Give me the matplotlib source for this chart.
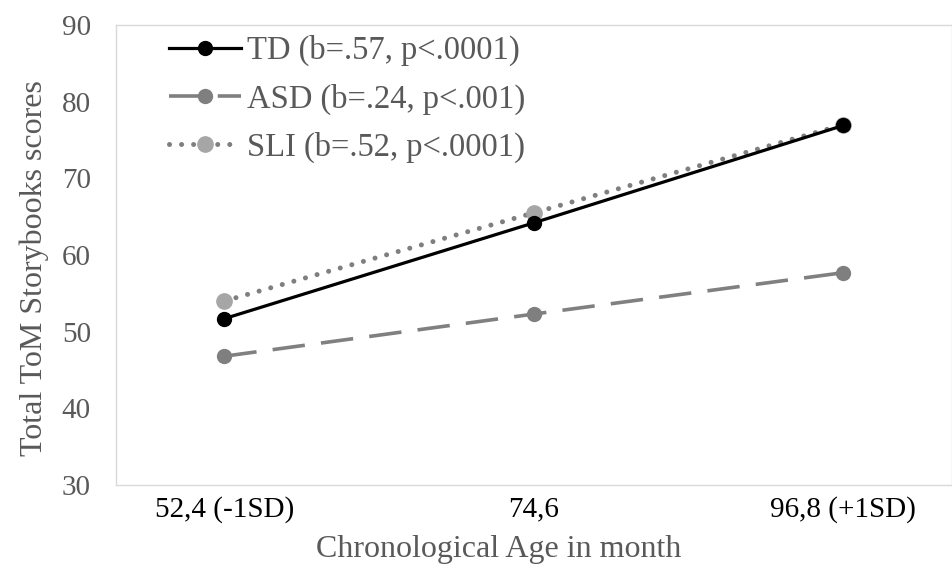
import matplotlib.pyplot as plt
import numpy as np

# category labels on the x axis (age in month)
ageLabels = ['52,4 (-1SD)', '74,6', '96,8 (+1SD)']

# total ToM storybooks scores per group
tdScores = [51.7, 64.2, 76.9]
asdScores = [46.8, 52.3, 57.7]
sliScores = [54.0, 65.5, 77.0]

seriesNames = ['TD (b=.57, p<.0001)', 'ASD (b=.24, p<.001)', 'SLI (b=.52, p<.0001)']

plt.rcParams['font.family'] = ['Liberation Serif', 'DejaVu Serif']

fig = plt.figure(figsize=(9.53, 5.64), dpi=100)
ax = fig.add_axes([0.1217, 0.140, 0.877, 0.8157])

x = np.arange(len(ageLabels))

ax.plot(x, tdScores, color='black', lw=2.3, marker='o', markersize=10,
        label=seriesNames[0], zorder=3)
ax.plot(x, asdScores, color='#808080', lw=2.6, marker='o', markersize=10,
        markerfacecolor='#7f7f7f', markeredgecolor='#7f7f7f',
        dashes=(9, 4.5), label=seriesNames[1], zorder=2)
ax.plot(x, sliScores, color='#7f7f7f', lw=3.6, marker='o', markersize=11,
        markerfacecolor='#a6a6a6', markeredgecolor='#a6a6a6',
        dashes=(0.01, 2.4), dash_capstyle='round', label=seriesNames[2], zorder=2)

ax.set_xlim(-0.35, 2.35)
ax.set_ylim(30, 90)
ax.set_yticks(range(30, 91, 10))
ax.set_xticks(x)
ax.set_xticklabels(ageLabels)
ax.tick_params(axis='both', length=0, labelsize=21)
ax.tick_params(axis='y', colors='#595959', pad=18)
ax.tick_params(axis='x', colors='black', pad=8)

for s in ax.spines.values():
    s.set_color('#d9d9d9')
    s.set_linewidth(1)

ax.set_xlabel('Chronological Age in month', fontsize=23, color='#595959')
ax.set_ylabel('Total ToM Storybooks scores', fontsize=23, color='#595959')
ax.xaxis.set_label_coords(0.458, -0.108)
ax.yaxis.set_label_coords(-0.08, 0.472)

leg = ax.legend(loc='upper left', bbox_to_anchor=(0.0634, 0.978), frameon=False,
                fontsize=23.5, handlelength=2.2, handletextpad=0.2, labelspacing=0.52,
                borderpad=0, borderaxespad=0, labelcolor='#595959')

fig.savefig('out.png', dpi=100)
